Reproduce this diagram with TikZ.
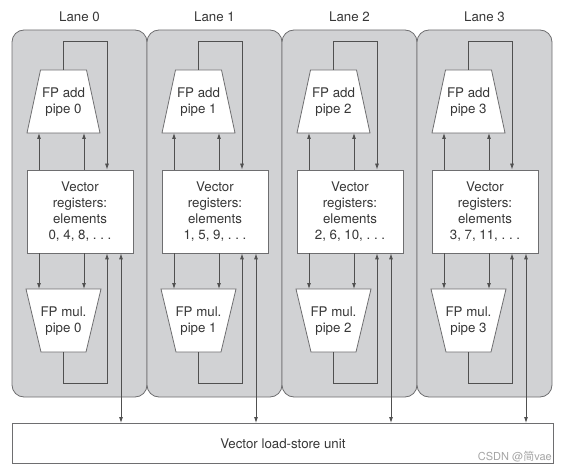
\documentclass[tikz,border=0pt]{standalone}
\usepackage{fontspec}
\setmainfont{TeX Gyre Heros}
\newfontfamily\cjk{Noto Sans CJK SC}
\usetikzlibrary{arrows.meta}
\definecolor{panelfill}{RGB}{209,210,212}
\definecolor{panelline}{RGB}{110,110,112}
\definecolor{wireline}{RGB}{80,80,80}
\definecolor{txt}{RGB}{55,55,55}
\begin{document}
\begin{tikzpicture}[x=1pt,y=-1pt,
  font=\fontsize{13.3}{16}\selectfont,
  panel/.style={draw=panelline,fill=panelfill,line width=0.8pt,rounded corners=12pt},
  unitbox/.style={draw=panelline,fill=white,line width=0.8pt},
  wire/.style={draw=wireline,line width=0.8pt},
  arr/.style={wire,-{Latex[length=6pt,width=4pt]}},
  biarr/.style={wire,{Latex[length=6pt,width=4pt]}-{Latex[length=6pt,width=4pt]}},
  lbl/.style={text=txt,align=center,inner sep=0pt},
  regbox/.style={unitbox,minimum width=106pt,minimum height=83pt,text=txt,align=center,inner sep=0pt}]
\useasboundingbox (0,0) rectangle (565,473);
\node[unitbox,minimum width=541pt,minimum height=40pt,inner sep=0pt,anchor=north west,text=txt] (ls) at (12,423) {Vector load-store unit};
\node[anchor=south east,inner sep=1pt,text=gray!70,font=\fontsize{11}{12}\selectfont] (wm) at (553,463) {CSDN @{\cjk 简}vae};
\foreach \i/\els in {0/{0, 4, 8}, 1/{1, 5, 9}, 2/{2, 6, 10}, 3/{3, 7, 11}} {
  \pgfmathsetmacro\dx{135*\i}
  \begin{scope}[xshift=\dx pt]
    \draw[panel] (12,30) rectangle (147,397);
    \node[lbl] (lane\i) at (79.5,17) {Lane \i};
    % add pipe
    \draw[unitbox] (40.5,70) -- (86.5,70) -- (100,133) -- (27,133) -- cycle;
    \node[lbl] (add\i) at (63.5,102.5) {FP add\\pipe \i};
    \coordinate (addout\i) at (63.5,70);
    \coordinate (addinA\i) at (39,133);
    \coordinate (addinB\i) at (84,133);
    % mul pipe
    \draw[unitbox] (26,289) -- (101,289) -- (86,352) -- (41,352) -- cycle;
    \node[lbl] (mul\i) at (63.5,321.5) {FP mul.\\pipe \i};
    \coordinate (mulout\i) at (63.5,352);
    \coordinate (mulinA\i) at (39,289);
    \coordinate (mulinB\i) at (84,289);
    % registers
    \node[regbox] (reg\i) at (80,211.5) {Vector\\registers:\\elements\\\els, .\ .\ .};
    % wires
    \draw[arr] (reg\i.north -| addinA\i) -- (addinA\i);
    \draw[arr] (reg\i.north -| addinB\i) -- (addinB\i);
    \draw[arr] (addout\i) -- (63.5,41) -- (107,41) -- (107,170.5 |- reg\i.north);
    \draw[arr] (reg\i.south -| mulinA\i) -- (mulinA\i);
    \draw[arr] (reg\i.south -| mulinB\i) -- (mulinB\i);
    \draw[arr] (mulout\i) -- (63.5,383) -- (107,383) -- (107,253 |- reg\i.south);
    \draw[biarr] (121,253 |- reg\i.south) -- (121,423 |- ls.north);
  \end{scope}
}
\end{tikzpicture}
\end{document}
